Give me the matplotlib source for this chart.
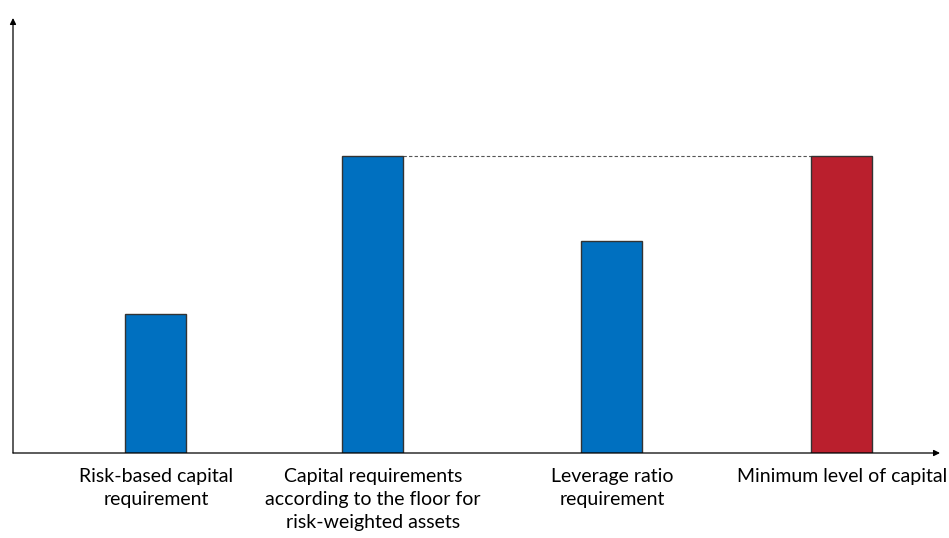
import matplotlib
matplotlib.use('Agg')
import matplotlib.pyplot as plt

plt.rcParams['font.family'] = ['Lato', 'DejaVu Sans']

# Donnees
categories = ['Risk-based capital\nrequirement',
              'Capital requirements\naccording to the floor for\nrisk-weighted assets',
              'Leverage ratio\nrequirement',
              'Minimum level of capital']
values = [4.68, 10.0, 7.14, 10.0]
bar_colors = ['#0070C0', '#0070C0', '#0070C0', '#BA1F2D']

# Mise en page (centres des barres, en pixels depuis l'axe vertical)
x_pos = [143, 360, 599, 829]
bar_w = 61

fig = plt.figure(figsize=(9.49, 5.38), dpi=100)
ax = fig.add_axes([13 / 949, 85 / 538, 927 / 949, 435 / 538])
ax.set_xlim(0, 927)
ax.set_ylim(0, 435 / 29.7)

ax.bar(x_pos, values, width=bar_w, color=bar_colors,
       edgecolor='#333333', linewidth=1.0, zorder=3)

# Ligne pointillee entre le plancher et le niveau minimum
ax.plot([x_pos[1] + bar_w / 2, x_pos[3] - bar_w / 2], [values[1], values[3]],
        color='#555555', linestyle=(0, (3, 2)), linewidth=0.8, zorder=2)

for sp in ax.spines.values():
    sp.set_visible(False)
ax.set_xticks([])
ax.set_yticks([])

# Axes avec fleches
ax.annotate('', xy=(0, 1.0), xytext=(0, 0), xycoords='axes fraction',
            arrowprops=dict(arrowstyle='-|>', color='black', lw=0.9,
                            mutation_scale=9, shrinkA=0, shrinkB=0))
ax.annotate('', xy=(1.0, 0), xytext=(0, 0), xycoords='axes fraction',
            arrowprops=dict(arrowstyle='-|>', color='black', lw=0.9,
                            mutation_scale=9, shrinkA=0, shrinkB=0))

for x, lab in zip(x_pos, categories):
    ax.text(x, -0.034, lab, transform=ax.get_xaxis_transform(),
            ha='center', va='top', fontsize=14, linespacing=1.42)

fig.savefig('out.png', dpi=100)
plt.close()
